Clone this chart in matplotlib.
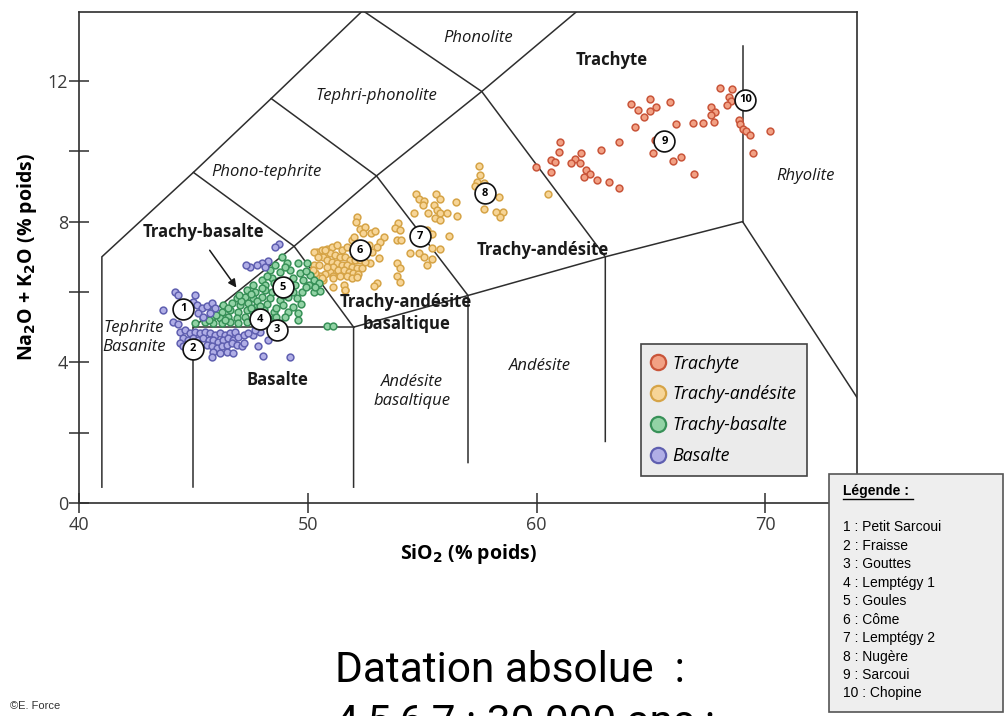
import matplotlib
matplotlib.use("Agg")
import matplotlib.pyplot as plt
from matplotlib.lines import Line2D
from matplotlib.patches import Rectangle

# ---------------- data ----------------
trachyte_x = [68.0, 68.54, 68.39, 68.49, 68.32, 67.63, 67.81, 67.62, 67.76, 68.86, 68.9, 69.02, 69.16, 69.31,
              70.18, 69.44, 66.83, 67.27, 66.1, 65.84, 65.2, 64.94, 64.96, 64.67, 64.12, 64.41, 64.32, 63.58,
              62.81, 61.93, 61.69, 61.5, 61.9, 61.03, 60.96, 60.64, 60.81, 59.98, 60.62, 62.15, 62.31, 62.08,
              62.63, 63.16, 63.58, 65.07, 65.96, 66.33, 66.86, 65.18]
trachyte_y = [11.79, 11.76, 11.53, 11.44, 11.31, 11.27, 11.13, 11.03, 10.84, 10.89, 10.77, 10.64, 10.58, 10.46,
              10.58, 9.96, 10.8, 10.8, 10.77, 11.39, 11.25, 11.48, 11.14, 10.97, 11.34, 11.16, 10.7, 10.27,
              10.04, 9.94, 9.77, 9.66, 9.68, 10.25, 9.99, 9.75, 9.69, 9.54, 9.4, 9.47, 9.355, 9.28,
              9.18, 9.12, 8.97, 9.94, 9.72, 9.85, 9.35, 10.32]

tandesite_x = [57.5, 57.53, 57.39, 57.32, 57.71, 58.34, 57.71, 58.23, 58.52, 58.41, 56.48, 56.51, 56.15,
               54.74, 54.88, 55.09, 55.03, 55.61, 55.78, 55.52, 55.64, 55.76, 55.27, 56.08, 54.65, 55.57, 55.76,
               53.96, 53.82, 54.04, 53.89, 54.07, 55.2, 55.42, 55.76, 55.42, 54.88, 55.06, 54.47, 55.42, 55.2,
               53.89, 54.04, 53.89, 54.04, 53.02, 52.9, 52.14, 52.11, 52.29, 52.51, 52.43, 52.75, 52.94, 53.31,
               53.16, 53.02, 53.12, 52.72,
               50.39, 50.61, 50.83, 51.05, 51.27, 51.49, 51.7, 51.92, 52.02, 50.98, 51.19, 51.41, 51.63, 51.85,
               52.07, 52.29, 52.51, 50.68, 50.83, 51.05, 51.27, 51.49, 51.7, 51.92, 52.14, 52.36, 51.12, 51.34,
               51.56, 51.78, 51.99, 52.21, 50.98, 50.76, 50.54, 50.32, 50.46, 50.68, 51.12, 51.41, 51.7, 51.92,
               52.14, 51.12, 51.63, 50.25, 50.51, 50.83, 52.8, 52.58, 52.43, 52.14, 52.69,
               50.25, 50.46, 50.76, 50.32, 50.61, 51.12, 51.56, 51.63, 50.23, 60.49]
tandesite_y = [9.59, 9.33, 9.14, 9.01, 9.09, 8.71, 8.35, 8.26, 8.265, 8.14, 8.57, 8.17, 7.59,
               8.78, 8.64, 8.6, 8.47, 8.78, 8.64, 8.47, 8.33, 8.24, 8.24, 8.24, 8.24, 8.09, 8.05,
               7.95, 7.81, 7.76, 7.48, 7.48, 7.76, 7.65, 7.21, 7.24, 7.1, 7.0, 7.12, 6.93, 6.77,
               6.81, 6.67, 6.44, 6.29, 6.25, 6.17, 8.14, 8.0, 7.78, 7.86, 7.67, 7.67, 7.72, 7.55,
               7.43, 7.29, 6.98, 6.81,
               7.15, 7.2, 7.21, 7.29, 7.34, 7.2, 7.29, 7.48, 7.57, 7.1, 7.05, 7.0, 7.0, 6.91,
               6.91, 6.91, 6.86, 7.0, 6.91, 6.86, 6.81, 6.77, 6.77, 6.72, 6.67, 6.67, 6.72, 6.63,
               6.63, 6.58, 6.53, 6.51, 6.58, 6.51, 6.45, 6.55, 6.39, 6.34, 6.44, 6.44, 6.44, 6.39,
               6.42, 6.15, 6.06, 6.77, 6.77, 6.7, 7.15, 7.2, 7.29, 7.29, 7.34,
               7.15, 7.0, 7.19, 6.53, 6.39, 6.39, 6.2, 6.06, 6.62, 8.79]

tbasalte_x = [48.86, 49.95, 48.57, 49.08, 49.59, 48.35, 48.79, 49.23, 49.66, 50.1, 47.99, 48.42, 49.37, 49.81,
              50.25, 47.62, 48.13, 48.5, 49.44, 50.03, 50.47, 47.33, 47.7, 48.13, 48.42, 49.37, 49.74, 50.25,
              50.54, 46.89, 47.26, 47.62, 47.99, 48.35, 48.79, 49.15, 49.52, 46.31, 46.68, 47.04, 47.40, 47.77,
              48.21, 48.93, 49.37, 45.87, 46.24, 46.6, 46.97, 47.33, 47.62, 48.5, 49.15, 49.59, 45.44, 45.8,
              46.17, 46.53, 46.89, 47.26, 48.5, 49.59, 45.07, 45.51, 45.87, 46.24, 46.6, 46.97, 47.33, 48.79,
              50.83, 51.12,
              48.2, 48.7, 49.0, 48.0, 47.5, 47.8, 48.9, 49.9, 49.2, 46.5, 46.0, 47.1, 47.5, 48.1, 48.6, 48.0,
              48.3, 47.9, 49.0, 49.7, 46.4, 45.7, 47.0, 47.9, 48.9, 49.9, 50.3, 48.6]
tbasalte_y = [6.99, 6.82, 6.77, 6.82, 6.82, 6.63, 6.58, 6.63, 6.53, 6.48, 6.34, 6.39, 6.39, 6.34,
              6.34, 6.2, 6.2, 6.25, 6.2, 6.2, 6.25, 6.06, 6.01, 6.06, 6.01, 6.01, 6.01, 6.01,
              6.04, 5.82, 5.87, 5.82, 5.87, 5.82, 5.77, 5.87, 5.82, 5.63, 5.68, 5.63, 5.68, 5.63,
              5.66, 5.63, 5.58, 5.49, 5.44, 5.49, 5.44, 5.49, 5.44, 5.44, 5.44, 5.39, 5.25, 5.3,
              5.25, 5.3, 5.25, 5.3, 5.25, 5.2, 5.11, 5.16, 5.11, 5.11, 5.16, 5.11, 5.16, 5.11,
              5.03, 5.03,
              6.45, 6.3, 6.7, 6.1, 5.95, 5.75, 5.95, 6.6, 6.1, 5.55, 5.35, 5.75, 5.55, 5.5, 5.55, 5.35,
              5.2, 5.15, 5.3, 5.65, 5.2, 5.2, 5.9, 5.6, 5.9, 6.15, 6.15, 5.3]

basalte_x = [48.76, 48.57, 48.28, 47.99, 47.77, 47.48, 47.3, 48.13, 44.2, 44.34, 45.07, 43.69, 44.12, 44.34,
             45.0, 45.15, 45.36, 45.58, 45.8, 45.95, 45.73, 45.22, 45.44,
             44.42, 44.64, 44.85, 45.07, 45.29, 45.51, 45.73, 45.95, 46.17, 46.38, 46.6, 46.82, 44.56, 44.78,
             45.0, 45.22, 45.44, 45.66, 45.87, 46.09, 46.31, 46.53, 46.75, 46.97, 47.19, 45.58, 45.8, 46.02,
             46.24, 46.46, 46.68, 46.89, 47.11, 45.87, 46.17, 46.46, 45.8, 46.75, 47.19, 47.62, 47.84, 48.03,
             48.28, 49.23, 47.4, 47.91, 47.7, 44.42, 44.56]
basalte_y = [7.36, 7.29, 6.89, 6.83, 6.77, 6.72, 6.77, 6.72, 6.01, 5.91, 5.91, 5.49, 5.16, 5.09,
             5.72, 5.63, 5.54, 5.6, 5.68, 5.54, 5.39, 5.39, 5.3,
             4.87, 4.92, 4.82, 4.87, 4.82, 4.87, 4.82, 4.78, 4.82, 4.78, 4.82, 4.87, 4.68, 4.64,
             4.68, 4.64, 4.68, 4.64, 4.64, 4.59, 4.64, 4.68, 4.64, 4.73, 4.78, 4.49, 4.45, 4.4,
             4.45, 4.49, 4.54, 4.49, 4.45, 4.3, 4.26, 4.3, 4.16, 4.26, 4.54, 4.78, 4.45, 4.18,
             4.64, 4.14, 4.82, 4.87, 4.92, 4.54, 4.45]

site_numbers = ["1", "2", "3", "4", "5", "6", "7", "8", "9", "10"]
site_x = [44.55, 44.98, 48.66, 47.91, 48.92, 52.29, 54.91, 57.75, 65.58, 69.12]
site_y = [5.52, 4.38, 4.92, 5.23, 6.14, 7.19, 7.59, 8.81, 10.29, 11.46]

# TAS field boundaries (SiO2, Na2O+K2O)
boundary_lines = [
    ([41, 41, 45, 48.4, 52.4], [0.45, 7, 9.4, 11.5, 14]),
    ([45, 45, 52], [0.45, 5, 5]),
    ([52, 52, 57, 63, 69, 74], [0.45, 5, 5.9, 7, 8, 3.0]),
    ([45, 49.4, 53, 57.6, 61.8], [5, 7.3, 9.3, 11.7, 14]),
    ([52, 49.4, 45], [5, 7.3, 9.4]),
    ([48.4, 53, 57, 57], [11.5, 9.3, 5.9, 1.15]),
    ([52.4, 57.6, 63, 63], [14, 11.7, 7, 1.75]),
    ([69, 69], [8, 13]),
]

field_labels = [
    ("Phonolite", 57.45, 13.22, "italic", "normal"),
    ("Trachyte", 63.3, 12.6, "normal", "bold"),
    ("Tephri-phonolite", 53.0, 11.57, "italic", "normal"),
    ("Phono-tephrite", 48.2, 9.41, "italic", "normal"),
    ("Trachy-basalte", 45.45, 7.7, "normal", "bold"),
    ("Rhyolite", 71.75, 9.3, "italic", "normal"),
    ("Trachy-andésite", 60.25, 7.2, "normal", "bold"),
    ("Trachy-andésite\nbasaltique", 54.3, 5.4, "normal", "bold"),
    ("Tephrite\nBasanite", 42.4, 4.7, "italic", "normal"),
    ("Basalte", 48.66, 3.5, "normal", "bold"),
    ("Andésite\nbasaltique", 54.56, 3.18, "italic", "normal"),
    ("Andésite", 60.16, 3.9, "italic", "normal"),
]

legend_names = ["Trachyte", "Trachy-andésite", "Trachy-basalte", "Basalte"]
site_names = ["1 : Petit Sarcoui", "2 : Fraisse", "3 : Gouttes", "4 : Lemptégy 1", "5 : Goules",
              "6 : Côme", "7 : Lemptégy 2", "8 : Nugère", "9 : Sarcoui", "10 : Chopine"]

# ---------------- style ----------------
FONT = "Open Sans"
colors = {
    "Trachyte": ("#f2a184", "#c9553a"),
    "Trachy-andésite": ("#f7d597", "#d6a447"),
    "Trachy-basalte": ("#92d3a5", "#389158"),
    "Basalte": ("#b0aee6", "#5f5fb0"),
}
LINE = "#2e2e2e"

fig = plt.figure(figsize=(10.06, 7.16), dpi=100)
ax = fig.add_axes([79 / 1006, 1 - 503 / 716, (857 - 79) / 1006, (503 - 12) / 716])
ax.set_xlim(40, 74)
ax.set_ylim(0, 13.96)

for xs, ys in boundary_lines:
    ax.plot(xs, ys, color=LINE, lw=1.1, zorder=2, solid_joinstyle="miter")

series = [("Trachyte", trachyte_x, trachyte_y), ("Trachy-andésite", tandesite_x, tandesite_y),
          ("Trachy-basalte", tbasalte_x, tbasalte_y), ("Basalte", basalte_x, basalte_y)]
for name, xs, ys in series:
    fc, ec = colors[name]
    ax.scatter(xs, ys, s=24, facecolor=fc, edgecolor=ec, linewidth=1.1, zorder=3)

for txt, x, y, style, weight in field_labels:
    ax.text(x, y, txt, ha="center", va="center", fontsize=12, style=style, weight=weight,
            family=FONT, color="#1a1a1a", zorder=4, linespacing=1.25)

ax.annotate("", xy=(46.95, 6.06), xytext=(45.64, 7.25),
            arrowprops=dict(arrowstyle="-|>", color="#1a1a1a", lw=1.1, mutation_scale=12), zorder=4)

for lab, x, y in zip(site_numbers, site_x, site_y):
    ax.plot(x, y, "o", ms=15, mfc="white", mec="#111111", mew=1.2, zorder=5)
    ax.text(x, y, lab, ha="center", va="center", fontsize=8, weight="bold", family=FONT, zorder=6)

handles = [Line2D([], [], ls="none", marker="o", ms=11, mfc=colors[n][0], mec=colors[n][1], mew=1.6)
           for n in legend_names]
leg = ax.legend(handles, legend_names, loc="upper left", bbox_to_anchor=(0.722, 0.324),
                borderaxespad=0, frameon=True, fancybox=False, handlelength=0.8, handletextpad=0.4,
                labelspacing=0.72, borderpad=0.6,
                prop=dict(family=FONT, style="italic", size=12.8))
leg.get_frame().set_facecolor("#ebebeb")
leg.get_frame().set_edgecolor("#444444")
leg.get_frame().set_linewidth(1.2)
leg.get_frame().set_alpha(1)
leg.set_zorder(7)

# axes styling
for side in ["top", "right", "left", "bottom"]:
    ax.spines[side].set_color(LINE)
    ax.spines[side].set_linewidth(1.2)
ax.set_xticks([40, 50, 60, 70])
ax.set_yticks([0, 4, 8, 12])
ax.set_yticks([2, 6, 10], minor=True)
ax.tick_params(axis="both", which="both", direction="inout", length=14, width=1.1, color=LINE,
               labelsize=13, labelcolor="#3a3a3a", pad=2)
ax.tick_params(axis="y", which="major", pad=1)
for lbl in ax.get_xticklabels() + ax.get_yticklabels():
    lbl.set_family(FONT)

ax.set_xlabel("SiO$_\\mathbf{2}$ (% poids)", fontsize=14, weight="bold", family=FONT, labelpad=6)
ax.set_ylabel("Na$_\\mathbf{2}$O + K$_\\mathbf{2}$O (% poids)", fontsize=14, weight="bold", family=FONT,
              labelpad=6)

# site legend box (figure coordinates)
box = Rectangle((829 / 1006, 1 - 712 / 716), 174 / 1006, 238 / 716, transform=fig.transFigure,
                facecolor="#eeeeee", edgecolor="#555555", lw=1.2, zorder=10)
fig.add_artist(box)
fig.text(843 / 1006, 1 - 491 / 716, "Légende :", fontsize=10, weight="bold", family="Liberation Sans",
         va="center", ha="left", zorder=11)
fig.add_artist(Line2D([843 / 1006, 913 / 1006], [1 - 499 / 716, 1 - 499 / 716], transform=fig.transFigure,
                      color="black", lw=1, zorder=11))
for i, name in enumerate(site_names):
    fig.text(843 / 1006, 1 - (527 + i * 18.5) / 716, name, fontsize=10, family="Liberation Sans",
             va="center", ha="left", zorder=11)

fig.text(335 / 1006, 1 - 682 / 716, "Datation absolue  :", fontsize=30.5, family="Roboto",
         va="baseline", ha="left")
fig.text(335 / 1006, 1 - 735 / 716, "4,5,6,7 : 30 000 ans ;", fontsize=30.5, family="Roboto",
         va="baseline", ha="left")
fig.text(10 / 1006, 1 - 706 / 716, "©E. Force", fontsize=8, family="Liberation Sans", color="#333333",
         va="center", ha="left")

fig.savefig("out.png", dpi=100)
